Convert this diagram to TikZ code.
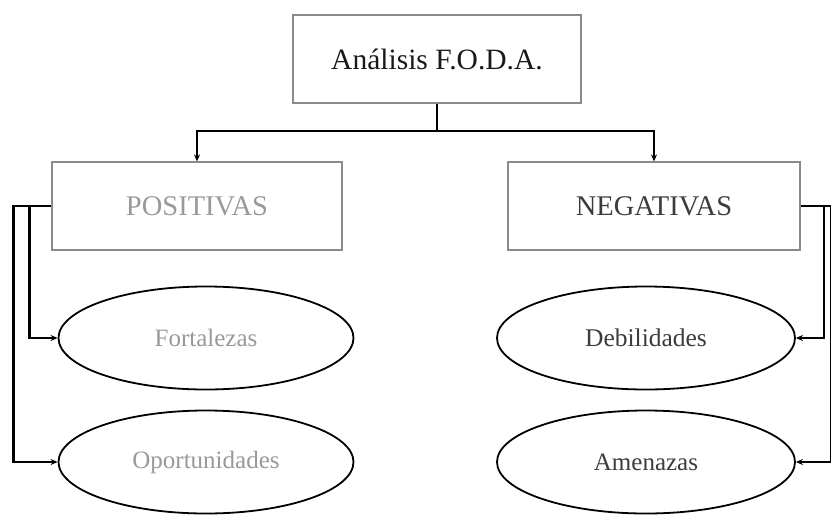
\documentclass[tikz,border=0pt]{standalone}
\usepackage{fontspec}
\setmainfont{Liberation Serif}
\usetikzlibrary{shapes.geometric,arrows.meta}
\definecolor{boxline}{HTML}{8A8A8A}
\definecolor{lighttext}{HTML}{999999}
\definecolor{darktext}{HTML}{3C3C3C}
\tikzset{
  box/.style={draw=boxline, line width=1.2pt, rectangle, inner sep=0pt},
  oval/.style={draw=black, line width=1.8pt, ellipse, inner sep=0pt, minimum width=295pt, minimum height=103pt},
  conn/.style={draw=black, line width=2.2pt},
  arr/.style={conn, -{Stealth[length=7pt,width=6pt]}}
}
\begin{document}
\begin{tikzpicture}[x=1pt,y=-1pt]
\useasboundingbox (0,0) rectangle (831,515);
\node[box, minimum width=288pt, minimum height=88pt, text=black!90, font=\fontsize{29.5}{33}\selectfont] (top) at (437,59) {Análisis F.O.D.A.};
\node[box, minimum width=290pt, minimum height=88pt, text=lighttext, font=\fontsize{28.5}{32}\selectfont] (pos) at (197,206) {POSITIVAS};
\node[box, minimum width=292pt, minimum height=88pt, text=darktext, font=\fontsize{28.5}{32}\selectfont] (neg) at (654,206) {NEGATIVAS};
\node[oval, text=lighttext, font=\fontsize{25}{29}\selectfont] (fort) at (206,338) {Fortalezas};
\node[oval, text=lighttext, font=\fontsize{25}{29}\selectfont] (opp) at (206,462) {Oportunidades};
\node[oval, minimum width=298pt, text=darktext, font=\fontsize{25.5}{29}\selectfont] (deb) at (646,338) {Debilidades};
\node[oval, minimum width=298pt, text=darktext, font=\fontsize{25}{29}\selectfont] (amen) at (646,462) {Amenazas};
\coordinate (j) at (437,131);
\draw[conn] (top.south) -- (j);
\draw[arr] (j) -| (pos.north);
\draw[arr] (j) -| (neg.north);
\draw[arr] (pos.west) -- ++(-22,0) |- (fort.west);
\draw[arr] (pos.west) -- ++(-38,0) |- (opp.west);
\draw[arr] (neg.east) -- ++(23,0) |- (deb.east);
\draw[arr] (neg.east) -- ++(30,0) |- (amen.east);
\end{tikzpicture}
\end{document}
